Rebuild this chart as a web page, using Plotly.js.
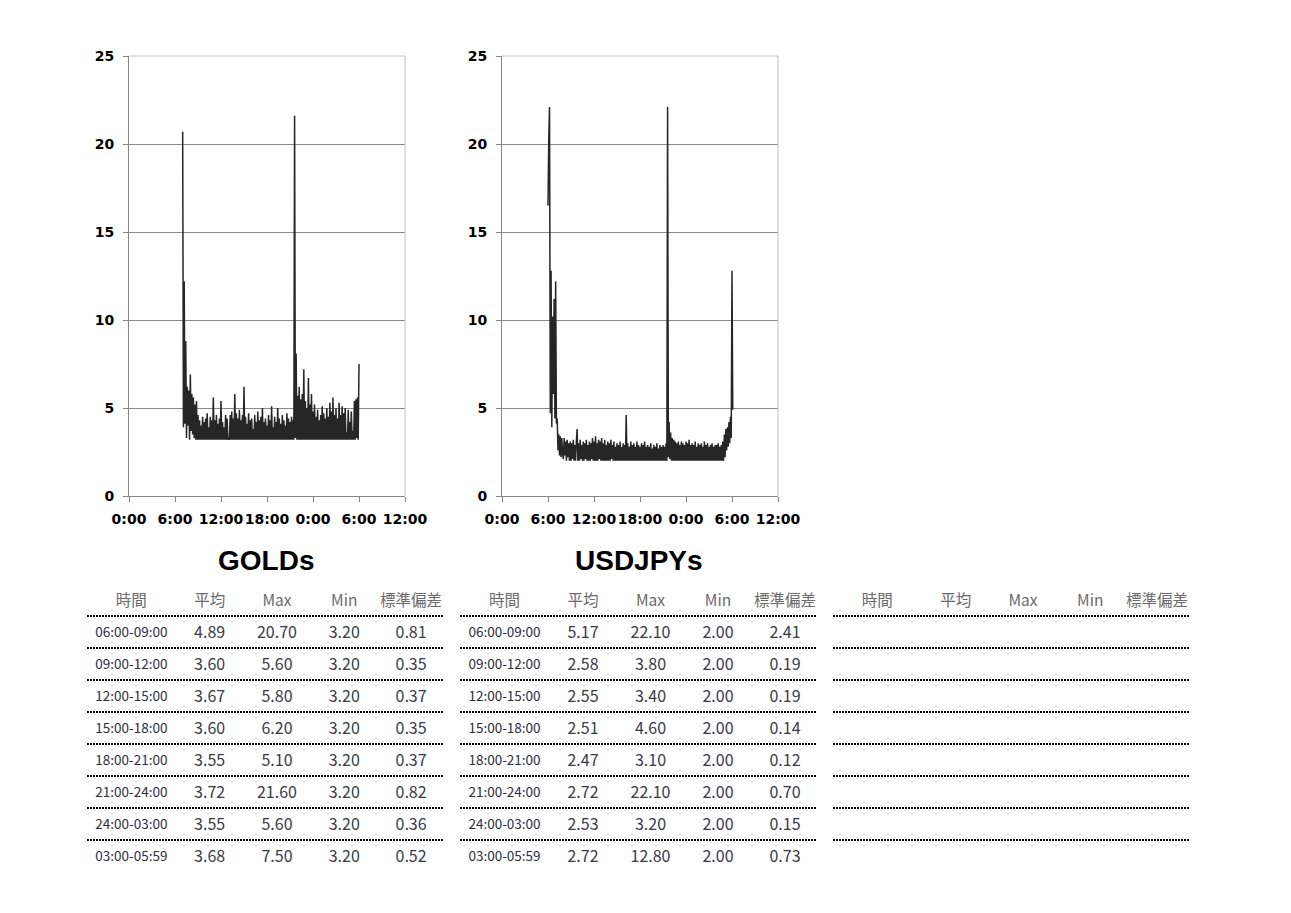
<!DOCTYPE html>
<html>
<head>
<meta charset="utf-8">
<script src="https://cdn.plot.ly/plotly-3.0.1.min.js"></script>
<style>
  html, body { margin: 0; padding: 0; background: #ffffff; }
  #chart { width: 1291px; height: 913px; }
</style>
</head>
<body>
<div id="chart"></div>
<script>
// ---------------- data ----------------
const tickHours = [0, 6, 12, 18, 24, 30, 36];
const tickLabels = ["0:00", "6:00", "12:00", "18:00", "0:00", "6:00", "12:00"];

// GOLDs spread, one reading every 0.1 h starting 7:00
const goldStart = 7.0;
const goldStep = 0.1;
const goldSpread = [
  20.7, 3.9, 12.2, 4.1, 8.8, 3.3, 6.2, 4.0, 6.0, 3.2,
  6.9, 3.7, 5.8, 3.5, 5.6, 3.3, 5.2, 3.2, 5.4, 3.2,
  4.6, 3.2, 4.3, 3.2, 4.0, 3.2, 4.5, 3.2, 4.2, 3.2,
  4.4, 3.2, 4.7, 3.2, 3.9, 3.2, 4.5, 3.2, 4.3, 3.2,
  5.6, 3.2, 4.3, 3.2, 4.6, 3.2, 4.1, 3.2, 4.4, 3.2,
  5.4, 3.2, 4.2, 3.2, 3.9, 3.2, 4.6, 3.2, 4.4, 3.2,
  3.3, 3.2, 4.6, 3.2, 4.8, 3.2, 4.4, 3.2, 5.8, 3.2,
  4.7, 3.2, 4.4, 3.2, 4.9, 3.2, 4.3, 3.2, 4.6, 3.2,
  6.2, 3.2, 4.5, 3.2, 4.1, 3.2, 4.7, 3.2, 4.3, 3.2,
  4.4, 3.2, 3.8, 3.2, 4.6, 3.2, 4.2, 3.2, 4.8, 3.2,
  4.3, 3.2, 4.5, 3.2, 5.0, 3.2, 4.2, 3.2, 4.4, 3.2,
  4.0, 3.2, 4.6, 3.2, 4.3, 3.2, 5.1, 3.2, 3.9, 3.2,
  4.5, 3.2, 4.2, 3.2, 5.0, 3.2, 4.4, 3.2, 4.1, 3.2,
  4.6, 3.2, 4.3, 3.2, 4.0, 3.2, 4.7, 3.2, 4.4, 3.2,
  4.2, 3.2, 4.5, 3.2, 4.3, 3.2, 21.6, 3.3, 8.1, 3.2,
  5.7, 3.2, 6.2, 3.2, 5.5, 3.2, 5.8, 3.2, 7.2, 3.2,
  5.4, 3.2, 5.0, 3.2, 6.7, 3.2, 5.2, 3.2, 5.8, 3.2,
  4.8, 3.2, 5.2, 3.2, 4.5, 3.2, 4.9, 3.2, 4.3, 3.2,
  4.6, 3.2, 5.1, 3.2, 4.7, 3.2, 4.4, 3.2, 5.0, 3.2,
  4.5, 3.2, 5.3, 3.2, 4.8, 3.2, 5.6, 3.2, 4.6, 3.2,
  5.0, 3.2, 4.4, 3.2, 5.3, 3.2, 4.6, 3.2, 5.1, 3.2,
  4.7, 3.2, 5.0, 3.2, 3.6, 3.2, 4.9, 3.2, 4.2, 3.2,
  4.8, 3.2, 3.7, 3.2, 5.4, 3.2, 5.5, 3.3, 5.6, 3.2,
  7.5
];

// USDJPYs spread, one reading every 0.1 h starting 6:00
const usdStart = 6.0;
const usdStep = 0.1;
const usdSpread = [
  16.5, 20.3, 22.1, 4.7, 12.8, 3.9, 10.2, 5.8, 11.2, 4.4,
  12.2, 4.1, 4.4, 2.6, 3.5, 2.3, 3.4, 2.2, 3.3, 2.4,
  2.1, 3.3, 2.3, 3.1, 2.0, 3.2, 2.2, 3.0, 2.0, 3.1,
  2.0, 3.0, 2.1, 3.2, 2.0, 2.9, 2.0, 3.1, 3.8, 2.0,
  3.0, 2.0, 3.2, 2.1, 2.9, 2.0, 3.1, 2.0, 3.0, 2.1,
  3.2, 2.0, 2.9, 2.0, 3.1, 2.0, 3.0, 2.1, 3.3, 2.0,
  3.1, 2.0, 3.4, 2.0, 3.0, 2.0, 3.2, 2.1, 3.1, 2.0,
  3.3, 2.0, 3.0, 2.0, 3.2, 2.0, 2.9, 2.0, 3.1, 2.0,
  3.0, 2.0, 3.2, 2.1, 2.9, 2.0, 3.1, 2.0, 2.8, 2.0,
  3.0, 2.0, 2.9, 2.0, 3.1, 2.0, 2.8, 2.0, 3.0, 2.0,
  2.9, 2.0, 4.6, 2.0, 3.0, 2.0, 2.8, 2.0, 3.1, 2.0,
  2.9, 2.0, 3.0, 2.0, 2.8, 2.0, 3.1, 2.0, 2.9, 2.0,
  2.8, 2.0, 3.0, 2.0, 2.9, 2.0, 3.1, 2.0, 2.8, 2.0,
  2.9, 2.0, 2.8, 2.0, 3.0, 2.0, 2.7, 2.0, 2.9, 2.0,
  2.8, 2.0, 3.0, 2.0, 2.7, 2.0, 2.9, 2.0, 2.8, 2.0,
  2.9, 2.0, 2.8, 2.0, 3.0, 2.0, 22.1, 2.2, 4.2, 2.1,
  3.6, 2.0, 3.3, 2.0, 3.2, 2.0, 3.1, 2.0, 3.0, 2.0,
  3.1, 2.0, 2.9, 2.0, 3.1, 2.0, 3.0, 2.0, 2.9, 2.0,
  3.1, 2.0, 3.0, 2.0, 3.2, 2.0, 2.9, 2.0, 3.0, 2.0,
  2.9, 2.0, 3.1, 2.0, 2.8, 2.0, 3.0, 2.0, 2.9, 2.0,
  3.0, 2.0, 2.8, 2.0, 3.1, 2.0, 2.9, 2.0, 3.0, 2.0,
  2.8, 2.0, 2.9, 2.0, 3.0, 2.0, 2.8, 2.0, 2.9, 2.0,
  2.9, 2.0, 3.0, 2.0, 2.8, 2.0, 2.9, 2.0, 3.1, 2.0,
  3.5, 2.2, 3.8, 2.6, 3.9, 2.8, 4.2, 3.0, 4.5, 3.3,
  12.8, 4.9
];

const chartTitles = ["GOLDs", "USDJPYs"];
const tableHeaders = ["時間", "平均", "Max", "Min", "標準偏差"];
const periods = ["06:00-09:00", "09:00-12:00", "12:00-15:00", "15:00-18:00",
                 "18:00-21:00", "21:00-24:00", "24:00-03:00", "03:00-05:59"];

const goldMean = [4.89, 3.60, 3.67, 3.60, 3.55, 3.72, 3.55, 3.68];
const goldMax  = [20.70, 5.60, 5.80, 6.20, 5.10, 21.60, 5.60, 7.50];
const goldMin  = [3.20, 3.20, 3.20, 3.20, 3.20, 3.20, 3.20, 3.20];
const goldStd  = [0.81, 0.35, 0.37, 0.35, 0.37, 0.82, 0.36, 0.52];

const usdMean = [5.17, 2.58, 2.55, 2.51, 2.47, 2.72, 2.53, 2.72];
const usdMax  = [22.10, 3.80, 3.40, 4.60, 3.10, 22.10, 3.20, 12.80];
const usdMin  = [2.00, 2.00, 2.00, 2.00, 2.00, 2.00, 2.00, 2.00];
const usdStd  = [2.41, 0.19, 0.19, 0.14, 0.12, 0.70, 0.15, 0.73];

// ---------------- layout constants ----------------
const W = 1291, H = 913;
const px = v => v / W;
const py = v => 1 - v / H;
const textShift = 0.06;   // small downward nudge of table text (row units)

const traces = [];

function timeAxis(vals, start, step) {
  return vals.map((_, i) => +(start + i * step).toFixed(4));
}

traces.push({
  type: "scatter", mode: "lines", xaxis: "x", yaxis: "y",
  x: timeAxis(goldSpread, goldStart, goldStep), y: goldSpread,
  line: { color: "#262626", width: 1.5, simplify: false }, hoverinfo: "skip", showlegend: false
});
traces.push({
  type: "scatter", mode: "lines", xaxis: "x2", yaxis: "y2",
  x: timeAxis(usdSpread, usdStart, usdStep), y: usdSpread,
  line: { color: "#262626", width: 1.5, simplify: false }, hoverinfo: "skip", showlegend: false
});

// tables
const tables = [
  { cols: [goldMean, goldMax, goldMin, goldStd], left: 87, right: 443 },
  { cols: [usdMean, usdMax, usdMin, usdStd], left: 460, right: 817 },
  { cols: null, left: 833, right: 1189 }
];
const colX = [44.5, 123, 190.5, 258, 325];

const tickFont = { family: "DejaVu Sans", size: 14, color: "#000000", weight: "bold" };

const layout = {
  width: W, height: H,
  margin: { l: 0, r: 0, t: 0, b: 0, pad: 0 },
  paper_bgcolor: "#ffffff", plot_bgcolor: "#ffffff",
  showlegend: false, hovermode: false,
  shapes: [], annotations: []
};

function chartAxes(n, x0, x1) {
  const sfx = n === 1 ? "" : String(n);
  layout["xaxis" + sfx] = {
    domain: [px(x0), px(x1)], range: [0, 36], anchor: "y" + sfx,
    tickmode: "array", tickvals: tickHours, ticktext: tickLabels, tickangle: 0,
    showgrid: false, zeroline: false, showline: true, linecolor: "#868686", linewidth: 1,
    ticks: "outside", ticklen: 5, tickcolor: "#868686", tickwidth: 1,
    ticklabelstandoff: 5, tickfont: tickFont, fixedrange: true
  };
  layout["yaxis" + sfx] = {
    domain: [py(496), py(56)], range: [0, 25], anchor: "x" + sfx,
    tickmode: "array", tickvals: [0, 5, 10, 15, 20, 25],
    showgrid: true, gridcolor: "#8a8a8a", gridwidth: 1,
    zeroline: false, showline: true, linecolor: "#868686", linewidth: 1,
    ticks: "outside", ticklen: 5, tickcolor: "#868686", tickwidth: 1,
    ticklabelstandoff: 6, tickfont: tickFont, fixedrange: true
  };
  const xr = "x" + sfx + " domain";
  const yr = "y" + sfx + " domain";
  layout.shapes.push({ type: "line", xref: xr, yref: yr, x0: 0, x1: 1, y0: 1, y1: 1,
    line: { color: "#c0c0c0", width: 1 }, layer: "above" });
  layout.shapes.push({ type: "line", xref: xr, yref: yr, x0: 1, x1: 1, y0: 0, y1: 1,
    line: { color: "#c0c0c0", width: 1 }, layer: "above" });
}
chartAxes(1, 129, 405);
chartAxes(2, 502, 778);

const titleFont = { family: "Liberation Sans", size: 28, color: "#000000", weight: "bold" };
layout.annotations.push({
  xref: "paper", yref: "paper", x: px(266), y: py(560), xanchor: "center", yanchor: "middle",
  text: chartTitles[0], showarrow: false, font: titleFont
});
layout.annotations.push({
  xref: "paper", yref: "paper", x: px(639), y: py(560), xanchor: "center", yanchor: "middle",
  text: chartTitles[1], showarrow: false, font: titleFont
});

tables.forEach((t, k) => {
  const n = 3 + k;
  layout["xaxis" + n] = { domain: [px(t.left), px(t.right)], range: [0, 357], visible: false,
    anchor: "y" + n, fixedrange: true };
  layout["yaxis" + n] = { domain: [py(872), py(584)], range: [8.5, -0.5], visible: false,
    anchor: "x" + n, fixedrange: true };
  // header
  traces.push({
    type: "scatter", mode: "text", xaxis: "x" + n, yaxis: "y" + n,
    x: colX, y: tableHeaders.map(() => textShift), text: tableHeaders,
    textposition: "middle center", cliponaxis: false,
    textfont: { family: "Noto Sans CJK JP", size: 15.5, color: "#6a6a6a" },
    hoverinfo: "skip", showlegend: false
  });
  // dotted separators
  periods.forEach((_, r) => {
    layout.shapes.push({ type: "line", xref: "x" + n + " domain", yref: "y" + n,
      x0: 0, x1: 1, y0: r + 0.5, y1: r + 0.5,
      line: { color: "#000000", width: 2, dash: "2px,1px" } });
  });
  if (t.cols) {
    traces.push({
      type: "scatter", mode: "text", xaxis: "x" + n, yaxis: "y" + n,
      x: periods.map(() => colX[0]), y: periods.map((_, r) => r + 1 + textShift), text: periods,
      textposition: "middle center", cliponaxis: false,
      textfont: { family: "Noto Sans CJK JP", size: 13.5, color: "#2e2e3a" },
      hoverinfo: "skip", showlegend: false
    });
    const xs = [], ys = [], txt = [];
    t.cols.forEach((col, c) => {
      col.forEach((v, r) => { xs.push(colX[c + 1]); ys.push(r + 1 + textShift); txt.push(v.toFixed(2)); });
    });
    traces.push({
      type: "scatter", mode: "text", xaxis: "x" + n, yaxis: "y" + n,
      x: xs, y: ys, text: txt,
      textposition: "middle center", cliponaxis: false,
      textfont: { family: "Noto Sans CJK JP", size: 16, color: "#3a3a44" },
      hoverinfo: "skip", showlegend: false
    });
  }
});

Plotly.newPlot("chart", traces, layout, { displayModeBar: false, staticPlot: true });
</script>
</body>
</html>
